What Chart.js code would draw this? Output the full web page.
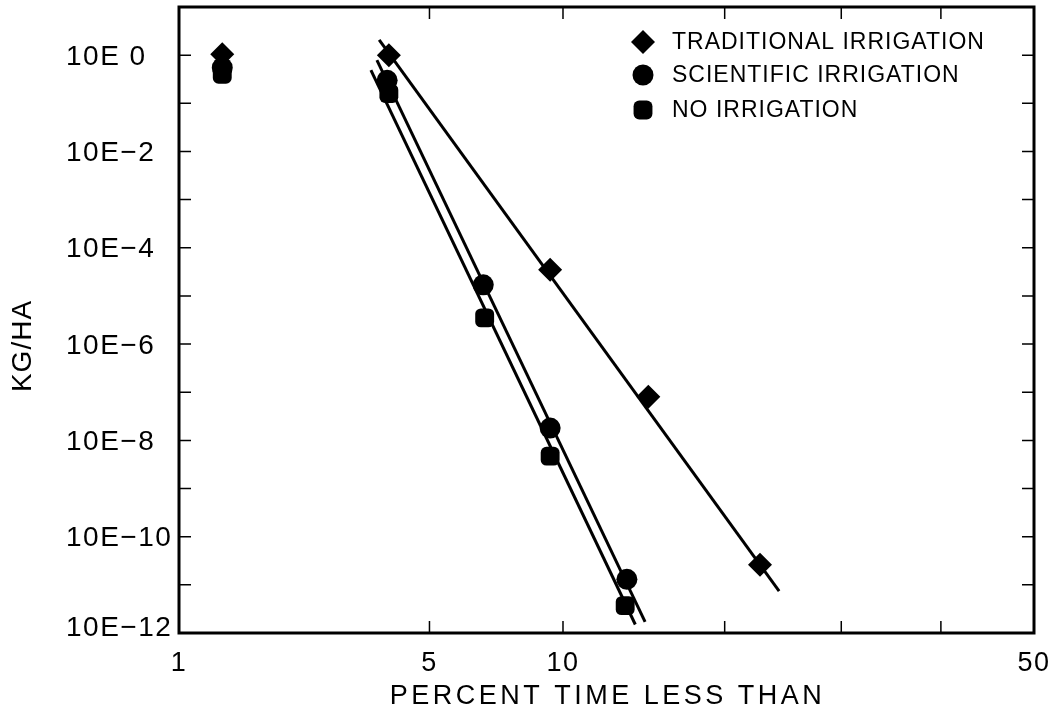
<!DOCTYPE html>
<html>
<head>
<meta charset="utf-8">
<title>KG/HA vs percent time less than</title>
<script src="https://cdn.jsdelivr.net/npm/chart.js@4.4.1/dist/chart.umd.min.js"></script>
<style>
  html, body { margin: 0; padding: 0; background: #fff; }
  #wrap { position: relative; width: 1061px; height: 719px; }
</style>
</head>
<body>
<div id="wrap"><canvas id="chart"></canvas></div>
<script>
// data (x = percent time less than, y = kg/ha)
const seriesNames = ['TRADITIONAL IRRIGATION', 'SCIENTIFIC IRRIGATION', 'NO IRRIGATION'];

const tradPct = [1.36, 3.96, 9.4, 14.7, 22.8];
const tradKg  = [1.05, 1.0, 3.5e-5, 8.1e-8, 2.6e-11];
const sciPct  = [1.36, 3.92, 6.7, 9.4, 13.4];
const sciKg   = [0.55, 0.3, 1.7e-5, 1.8e-8, 1.3e-11];
const noPct   = [1.36, 3.96, 6.75, 9.4, 13.3];
const noKg    = [0.4, 0.16, 3.5e-6, 4.7e-9, 3.7e-12];

// fitted lines, start and end
const tradFitPct = [3.74, 24.4];
const tradFitKg  = [2.07, 7.4e-12];
const sciFitPct  = [3.69, 14.5];
const sciFitKg   = [0.79, 1.7e-12];
const noFitPct   = [3.56, 13.9];
const noFitKg    = [0.49, 1.5e-12];

// axes
const xTickValues = [1, 5, 10, 20, 30, 40, 50];
const xTickLabels = ['1', '5', '10', '', '', '', '50'];
const yTickExps = [-12, -11, -10, -9, -8, -7, -6, -5, -4, -3, -2, -1, 0, 1];
const yLabelExps = [-12, -10, -8, -6, -4, -2, 0];
const yLabels = ['10E\u221212', '10E\u221210', '10E\u22128', '10E\u22126', '10E\u22124', '10E\u22122', '10E 0'];

function toPoints(xs, ys) {
    return xs.map((x, i) => ({ x: x, y: ys[i] }));
}

// inverse normal cdf (Acklam)
function probit(p) {
    const a = [-39.69683028665376, 220.9460984245205, -275.9285104469687, 138.3577518672690, -30.66479806614716, 2.506628277459239];
    const b = [-54.47609879822406, 161.5858368580409, -155.6989798598866, 66.80131188771972, -13.28068155288572];
    const c = [-0.007784894002430293, -0.3223964580411365, -2.400758277161838, -2.549732539343734, 4.374664141464968, 2.938163982698783];
    const d = [0.007784695709041462, 0.3224671290700398, 2.445134137142996, 3.754408661907416];
    const pl = 0.02425;
    let q, r;
    if (p < pl) {
        q = Math.sqrt(-2 * Math.log(p));
        return (((((c[0] * q + c[1]) * q + c[2]) * q + c[3]) * q + c[4]) * q + c[5]) /
               ((((d[0] * q + d[1]) * q + d[2]) * q + d[3]) * q + 1);
    }
    if (p <= 1 - pl) {
        q = p - 0.5;
        r = q * q;
        return (((((a[0] * r + a[1]) * r + a[2]) * r + a[3]) * r + a[4]) * r + a[5]) * q /
               (((((b[0] * r + b[1]) * r + b[2]) * r + b[3]) * r + b[4]) * r + 1);
    }
    q = Math.sqrt(-2 * Math.log(1 - p));
    return -(((((c[0] * q + c[1]) * q + c[2]) * q + c[3]) * q + c[4]) * q + c[5]) /
            ((((d[0] * q + d[1]) * q + d[2]) * q + d[3]) * q + 1);
}

function normCdf(z) {
    const t = 1 / (1 + 0.3275911 * Math.abs(z) / Math.SQRT2);
    const y = 1 - (((((1.061405429 * t - 1.453152027) * t) + 1.421413741) * t - 0.284496736) * t + 0.254829592) * t * Math.exp(-z * z / 2);
    return z < 0 ? (1 - y) / 2 : (1 + y) / 2;
}

// normal probability axis (percent)
class ProbitScale extends Chart.Scale {
    static id = 'probit';
    static defaults = {};

    determineDataLimits() {
        this.min = this.options.min;
        this.max = this.options.max;
    }
    buildTicks() {
        return xTickValues.map(v => ({ value: v }));
    }
    getLabelForValue(v) {
        return String(v);
    }
    getPixelForValue(v) {
        const z0 = probit(this.min / 100), z1 = probit(this.max / 100);
        return this.getPixelForDecimal((probit(v / 100) - z0) / (z1 - z0));
    }
    getPixelForTick(i) {
        return this.getPixelForValue(this.ticks[i].value);
    }
    getValueForPixel(px) {
        const z0 = probit(this.min / 100), z1 = probit(this.max / 100);
        return 100 * normCdf(z0 + this.getDecimalForPixel(px) * (z1 - z0));
    }
}
Chart.register(ProbitScale);

const FONT = 'Liberation Sans, Arial, Helvetica, sans-serif';
Chart.defaults.font.family = FONT;
Chart.defaults.color = '#000';

const frame = {
    id: 'frame',
    beforeDraw(chart) {
        const ctx = chart.ctx;
        ctx.save();
        ctx.fillStyle = '#fff';
        ctx.fillRect(0, 0, chart.width, chart.height);
        ctx.restore();
        ctx.letterSpacing = '1.5px';
    },
    afterDraw(chart) {
        const ctx = chart.ctx;
        const a = chart.chartArea;
        const xs = chart.scales.x, ys = chart.scales.y;
        ctx.save();
        ctx.strokeStyle = '#000';
        ctx.lineWidth = 1.5;
        ctx.beginPath();
        xTickValues.forEach(v => {
            const px = xs.getPixelForValue(v);
            ctx.moveTo(px, a.bottom);
            ctx.lineTo(px, a.bottom - 12);
            ctx.moveTo(px, a.top);
            ctx.lineTo(px, a.top + 12);
        });
        yTickExps.forEach(e => {
            const py = ys.getPixelForValue(Math.pow(10, e));
            ctx.moveTo(a.left, py);
            ctx.lineTo(a.left + 12, py);
            ctx.moveTo(a.right, py);
            ctx.lineTo(a.right - 12, py);
        });
        ctx.stroke();
        ctx.lineWidth = 3;
        ctx.strokeRect(a.left, a.top, a.right - a.left, a.bottom - a.top);

        ctx.fillStyle = '#000';
        ctx.textBaseline = 'middle';
        ctx.textAlign = 'left';

        // y tick labels, left aligned
        ctx.font = '28px ' + FONT;
        ctx.letterSpacing = '1.5px';
        yLabelExps.forEach((e, i) => {
            const py = ys.getPixelForValue(Math.pow(10, e));
            ctx.fillText(yLabels[i], 66, Math.min(py + 2, a.bottom - 5));
        });

        // legend
        const rows = [42, 75, 110];
        ctx.font = '23px ' + FONT;
        ctx.letterSpacing = '1px';
        for (let i = 0; i < 3; i++) {
            const ds = chart.data.datasets[i];
            Chart.helpers.drawPoint(ctx, { pointStyle: ds.pointStyle, radius: ds.pointRadius, borderWidth: 0, rotation: 0 }, 643, rows[i]);
            ctx.fillText(seriesNames[i], 672, rows[i] + 1);
        }

        // axis titles
        ctx.letterSpacing = '3.5px';
        ctx.font = '27px ' + FONT;
        ctx.textAlign = 'center';
        ctx.fillText('PERCENT TIME LESS THAN', (a.left + a.right) / 2 + 1, 697);
        ctx.translate(23, 346);
        ctx.rotate(-Math.PI / 2);
        ctx.letterSpacing = '1px';
        ctx.font = '28px ' + FONT;
        ctx.fillText('KG/HA', 0, 0);
        ctx.restore();
    }
};

const markerData = {
    borderWidth: 0,
    backgroundColor: '#000',
    order: 1
};
const fitLine = {
    showLine: true,
    pointRadius: 0,
    borderColor: '#000',
    borderWidth: 3,
    order: 2
};

new Chart(document.getElementById('chart'), {
    type: 'scatter',
    data: {
        datasets: [
            Object.assign({ label: seriesNames[0], data: toPoints(tradPct, tradKg), pointStyle: 'rectRot', pointRadius: 12 }, markerData),
            Object.assign({ label: seriesNames[1], data: toPoints(sciPct, sciKg), pointStyle: 'circle', pointRadius: 10.5 }, markerData),
            Object.assign({ label: seriesNames[2], data: toPoints(noPct, noKg), pointStyle: 'rectRounded', pointRadius: 11 }, markerData),
            Object.assign({ label: 'fit traditional', data: toPoints(tradFitPct, tradFitKg) }, fitLine),
            Object.assign({ label: 'fit scientific', data: toPoints(sciFitPct, sciFitKg) }, fitLine),
            Object.assign({ label: 'fit none', data: toPoints(noFitPct, noFitKg) }, fitLine)
        ]
    },
    options: {
        responsive: true,
        maintainAspectRatio: false,
        animation: false,
        events: [],
        layout: { autoPadding: false, padding: { left: 67, right: 27, top: 7, bottom: 0 } },
        plugins: {
            legend: { display: false },
            tooltip: { enabled: false }
        },
        scales: {
            x: {
                type: 'probit',
                min: 1,
                max: 50,
                grid: { display: false },
                border: { display: false },
                ticks: {
                    autoSkip: false,
                    maxRotation: 0,
                    padding: 6,
                    font: { size: 27 },
                    callback: (v, i) => xTickLabels[i]
                },
                afterFit: (scale) => {
                    scale.height = 86;
                    scale.paddingLeft = 0;
                    scale.paddingRight = 0;
                }
            },
            y: {
                type: 'logarithmic',
                min: 1e-12,
                max: 10,
                grid: { display: false },
                border: { display: false },
                afterBuildTicks: (scale) => {
                    scale.ticks = yTickExps.map(e => ({ value: Math.pow(10, e) }));
                },
                ticks: { display: false },
                afterFit: (scale) => {
                    scale.width = 112;
                    scale.paddingTop = 0;
                    scale.paddingBottom = 0;
                }
            }
        }
    },
    plugins: [frame]
});
</script>
</body>
</html>
